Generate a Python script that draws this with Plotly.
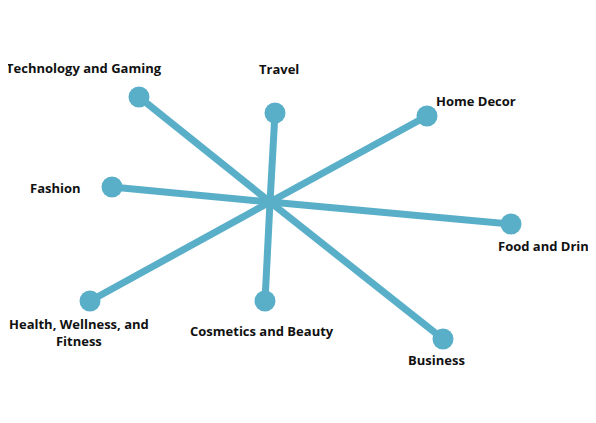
import plotly.graph_objects as go

# spoke diagram: centre hub and end nodes (pixel-like coordinates, y down)
center = (270, 202)
categories = ["Technology and Gaming", "Travel", "Home Decor", "Fashion",
              "Food and Drink", "Health, Wellness, and<br>Fitness",
              "Cosmetics and Beauty", "Business"]
node_x = [139, 275, 427, 112, 511, 90, 265, 443]
node_y = [97, 113, 116, 187, 224, 301, 301, 339]
label_x = [84, 279, 476, 55, 548, 79, 262, 436]
label_y = [68, 69, 101, 188, 246, 332, 331, 360]

color = "#5aafc8"

line_x, line_y = [], []
for x, y in zip(node_x, node_y):
    line_x += [center[0], x, None]
    line_y += [center[1], y, None]

fig = go.Figure()
fig.add_trace(go.Scatter(x=line_x, y=line_y, mode="lines",
                         line=dict(color=color, width=7), hoverinfo="skip"))
fig.add_trace(go.Scatter(x=node_x, y=node_y, mode="markers",
                         marker=dict(color=color, size=21), text=categories,
                         hoverinfo="text"))

for name, x, y in zip(categories, label_x, label_y):
    fig.add_annotation(x=x, y=y, text="<b>" + name + "</b>", showarrow=False,
                       font=dict(family="Open Sans", size=13, color="#111111"))

# the page has an 8px body margin, so offset the ranges to compensate
fig.update_layout(
    width=596, height=423, margin=dict(l=0, r=0, t=0, b=0),
    plot_bgcolor="white", paper_bgcolor="white", showlegend=False,
    xaxis=dict(range=[8, 604], visible=False, fixedrange=True),
    yaxis=dict(range=[431, 8], visible=False, fixedrange=True),
)
fig.write_html("out.html")
